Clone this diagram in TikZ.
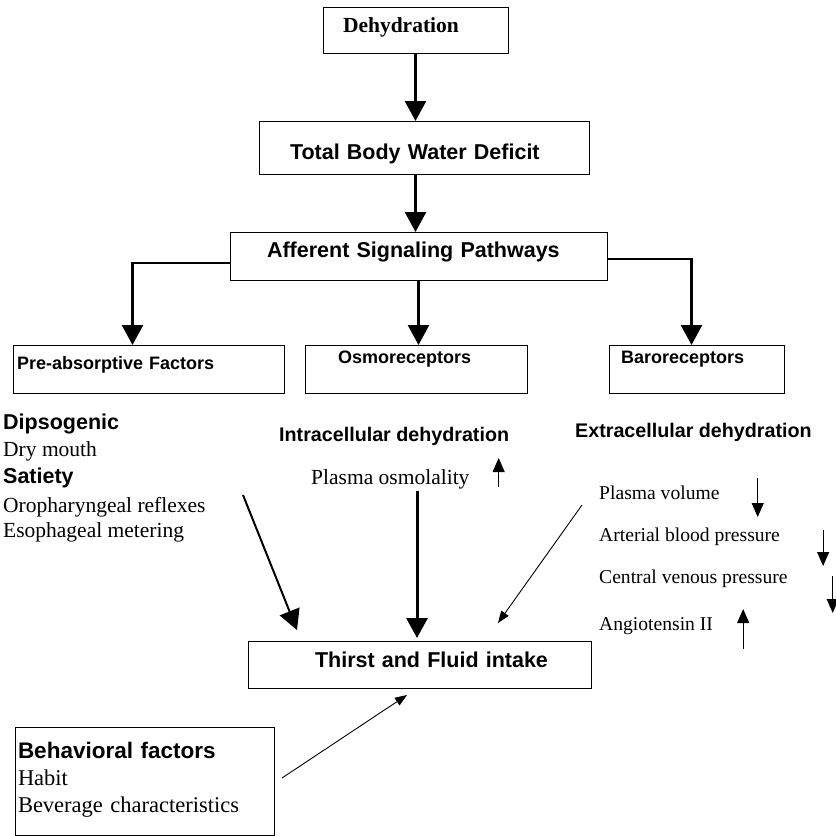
\documentclass[tikz,border=0pt]{standalone}
\usepackage{fontspec}
\setmainfont{Liberation Serif}
\setsansfont{Liberation Sans}
\usetikzlibrary{arrows.meta}

\tikzset{
    box/.style={draw, line width=1pt, anchor=north west, inner xsep=0pt, inner ysep=0pt, outer sep=0pt, align=left},
    lpad/.style={execute at begin node={\hspace*{#1}}},
    plain/.style={anchor=base west, inner sep=0pt},
    titleserif/.style={font=\rmfamily\bfseries\fontsize{21.5}{26}\selectfont},
    bigtitle/.style={font=\sffamily\bfseries\fontsize{21.5}{26}\selectfont},
    smalltitle/.style={font=\sffamily\bfseries\fontsize{18}{22}\selectfont},
    headsans/.style={font=\sffamily\bfseries\fontsize{21.5}{26}\selectfont},
    subsans/.style={font=\sffamily\bfseries\fontsize{19.7}{24}\selectfont},
    textserif/.style={font=\rmfamily\fontsize{21.5}{26}\selectfont},
    smallserif/.style={font=\rmfamily\fontsize{19.6}{24}\selectfont},
    flow/.style={-{Triangle[length=20pt,width=21pt]}, line width=2.6pt},
    slim/.style={-{Triangle[length=12pt,width=9pt]}, line width=0.9pt},
    ind/.style={-{Triangle[length=14pt,width=12pt]}, line width=1pt}
}

\begin{document}
\begin{tikzpicture}[x=1pt, y=-1pt]
        \useasboundingbox (0,0) rectangle (836,836);

        % boxes
        \node[box, titleserif, lpad=20pt, text width=185pt, text height=25pt, text depth=21pt] (dehyd) at (323,7) {Dehydration};
        \node[box, bigtitle, lpad=31pt, text width=330pt, text height=38pt, text depth=15pt] (tbwd) at (259,121) {Total Body Water Deficit};
        \node[box, bigtitle, lpad=37pt, text width=377pt, text height=25pt, text depth=23pt] (afferent) at (230,232) {Afferent Signaling Pathways};
        \node[box, smalltitle, lpad=4pt, text width=271pt, text height=24pt, text depth=24pt] (preabs) at (13,345) {Pre-absorptive Factors};
        \node[box, smalltitle, lpad=33pt, text width=222pt, text height=18pt, text depth=30pt] (osmo) at (305,345) {Osmoreceptors};
        \node[box, smalltitle, lpad=12pt, text width=175pt, text height=18pt, text depth=30pt] (baro) at (609,345) {Baroreceptors};
        \node[box, bigtitle, lpad=67pt, text width=343pt, text height=26pt, text depth=21pt] (thirst) at (248,641) {Thirst and Fluid intake};
        \node[box, font=\fontsize{22.5}{27}\selectfont, inner xsep=3pt, text width=253pt, text height=31pt, text depth=77pt] (behav) at (15,727)
            {{\sffamily\bfseries Behavioral factors}\\Habit\\Beverage characteristics};

        % upper connectors
        \draw[flow] (dehyd.south) -- (dehyd.south |- tbwd.north);
        \draw[flow] (dehyd.south |- tbwd.south) -- (dehyd.south |- afferent.north);
        \draw[flow] ([yshift=-7pt]afferent.west) -| ([xshift=-16pt]preabs.north);
        \draw[flow] (afferent.south) -- (afferent.south |- osmo.north);
        \draw[flow] ([yshift=-3pt]afferent.east) -| ([xshift=-5pt]baro.north);

        % texts under the receptors
        \node[plain, headsans]   (dips)  at (3,429)   {Dipsogenic};
        \node[plain, textserif]  (drym)  at (3,456)   {Dry mouth};
        \node[plain, headsans]   (sati)  at (3,483)   {Satiety};
        \node[plain, textserif]  (orop)  at (3,512)   {Oropharyngeal reflexes};
        \node[plain, textserif]  (esop)  at (3,537)   {Esophageal metering};
        \node[plain, subsans]    (intra) at (279,441) {Intracellular dehydration};
        \node[plain, textserif]  (posm)  at (311,484) {Plasma osmolality};
        \node[plain, subsans]    (extra) at (575,437) {Extracellular dehydration};
        \node[plain, smallserif] (pvol)  at (599,499) {Plasma volume};
        \node[plain, smallserif] (abp)   at (599,541) {Arterial blood pressure};
        \node[plain, smallserif] (cvp)   at (599,583) {Central venous pressure};
        \node[plain, smallserif] (ang)   at (599,630) {Angiotensin II};

        % up and down marks
        \draw[ind] ([shift={(29pt,-3pt)}]posm.base east) -- ++(0,-29);
        \draw[ind] ([shift={(38pt,21pt)}]pvol.base east) -- ++(0,39);
        \draw[ind] ([shift={(43pt,11pt)}]abp.base east) -- ++(0,36);
        \draw[ind] ([shift={(45pt,7pt)}]cvp.base east) -- ++(0,37);
        \draw[ind] ([shift={(30pt,-19pt)}]ang.base east) -- ++(0,-40);

        % lower connectors
        \coordinate (prefoot)  at (243,495);
        \coordinate (osmfoot)  at (417,491);
        \coordinate (barofoot) at (582,505);
        \draw[flow, line width=2pt] (prefoot) -- ([shift={(49pt,11pt)}]thirst.north west);
        \draw[flow, line width=3pt] (osmfoot) -- ([yshift=3pt]osmfoot |- thirst.north);
        \draw[slim] (barofoot) -- ([shift={(-93pt,18pt)}]thirst.north east);
        \draw[slim] ([shift={(8pt,3pt)}]behav.east) -- ([shift={(159pt,-7pt)}]thirst.south west);
      \end{tikzpicture}
\end{document}
